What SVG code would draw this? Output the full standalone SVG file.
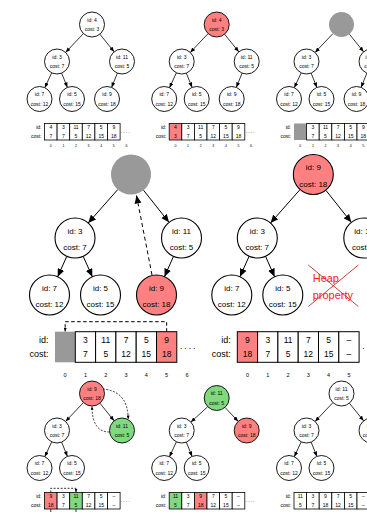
<svg xmlns="http://www.w3.org/2000/svg" width="367" height="512" viewBox="0 0 367 512">
<style>
text{font-family:"Liberation Sans",Arial,sans-serif;text-anchor:middle;fill:#000}
.n{fill:#fff;stroke:#000;stroke-width:0.9}
.nb{fill:#fff;stroke:#000;stroke-width:1.1}
.c{fill:#fff;stroke:#000;stroke-width:0.8}
.cb{fill:#fff;stroke:#000;stroke-width:1}
.red{fill:#ff8080}
.green{fill:#80d880}
.gray{fill:#999;stroke:none}
.ts{font-size:5px}
.tb{font-size:8px}
.e{stroke:#000;stroke-width:0.8;fill:none;marker-end:url(#ah)}
.eb{stroke:#000;stroke-width:1;fill:none;marker-end:url(#ahb)}
.d{stroke:#000;stroke-width:0.8;fill:none;stroke-dasharray:2 1.5;marker-end:url(#ahd)}
.db{stroke:#000;stroke-width:1;fill:none;stroke-dasharray:4 3;marker-end:url(#ahb)}
.ls{font-size:5px;text-anchor:end}
.lb{font-size:9px;text-anchor:end}
.vs{font-size:5px}
.vb{font-size:8.5px}
.is{font-size:3.5px}
.ib{font-size:5.5px}
.dots{font-size:5px;text-anchor:start;letter-spacing:1.1px}
.dotb{font-size:8.5px;text-anchor:start;letter-spacing:2px}
</style>
<defs>
<marker id="ah" markerUnits="userSpaceOnUse" markerWidth="5" markerHeight="4" refX="5" refY="2" orient="auto"><path d="M0,0 L5,2 L0,4 z" fill="#000"/></marker>
<marker id="ahd" markerUnits="userSpaceOnUse" markerWidth="3.5" markerHeight="3" refX="3.5" refY="1.5" orient="auto"><path d="M0,0 L3.5,1.5 L0,3 z" fill="#000"/></marker>
<marker id="ahb" markerUnits="userSpaceOnUse" markerWidth="8" markerHeight="7" refX="8" refY="3.5" orient="auto"><path d="M0,0 L8,3.5 L0,7 z" fill="#000"/></marker>
</defs>

<!-- ===== Panel 1 ===== -->
<g id="panel1">
<g id="p1-edges">
<path class="e" d="M83.4,33.6 L65.6,52.4"/><path class="e" d="M99.9,34.2 L114.1,51.8"/><path class="e" d="M51.7,72.8 L44.8,87.7"/><path class="e" d="M61.6,73.1 L67.4,87.4"/><path class="e" d="M117.4,73.1 L111.6,87.4"/>
</g>
<g id="p1-n4"><circle class="n" cx="92" cy="24.5" r="12.5"/><text class="ts" x="92" y="21.7">id: 4</text><text class="ts" x="92" y="31.2">cost: 3</text></g>
<g id="p1-n3"><circle class="n" cx="57" cy="61.5" r="12.5"/><text class="ts" x="57" y="58.7">id: 3</text><text class="ts" x="57" y="68.2">cost: 7</text></g>
<g id="p1-n11"><circle class="n" cx="122" cy="61.5" r="12.5"/><text class="ts" x="122" y="58.7">id: 11</text><text class="ts" x="122" y="68.2">cost: 5</text></g>
<g id="p1-n7"><circle class="n" cx="39.5" cy="99" r="12.5"/><text class="ts" x="39.5" y="96.2">id: 7</text><text class="ts" x="39.5" y="105.7">cost: 12</text></g>
<g id="p1-n5"><circle class="n" cx="72" cy="99" r="12.5"/><text class="ts" x="72" y="96.2">id: 5</text><text class="ts" x="72" y="105.7">cost: 15</text></g>
<g id="p1-n9"><circle class="n" cx="107" cy="99" r="12.5"/><text class="ts" x="107" y="96.2">id: 9</text><text class="ts" x="107" y="105.7">cost: 18</text></g>
<g id="p1-array">
<text class="ls" x="41.5" y="129.2">id:</text><text class="ls" x="41.5" y="137.6">cost:</text>
<rect class="c" x="44.5" y="123.5" width="12.6" height="16.5"/><rect class="c" x="57.1" y="123.5" width="12.6" height="16.5"/><rect class="c" x="69.7" y="123.5" width="12.6" height="16.5"/><rect class="c" x="82.3" y="123.5" width="12.6" height="16.5"/><rect class="c" x="94.9" y="123.5" width="12.6" height="16.5"/><rect class="c" x="107.5" y="123.5" width="12.6" height="16.5"/>
<text class="vs" x="50.8" y="129.2">4</text><text class="vs" x="63.4" y="129.2">3</text><text class="vs" x="76" y="129.2">11</text><text class="vs" x="88.6" y="129.2">7</text><text class="vs" x="101.2" y="129.2">5</text><text class="vs" x="113.8" y="129.2">9</text>
<text class="vs" x="50.8" y="137.6">7</text><text class="vs" x="63.4" y="137.6">7</text><text class="vs" x="76" y="137.6">5</text><text class="vs" x="88.6" y="137.6">12</text><text class="vs" x="101.2" y="137.6">15</text><text class="vs" x="113.8" y="137.6">18</text>
<text class="dots" x="121" y="133">....</text>
<text class="is" x="50.8" y="147">0</text><text class="is" x="63.4" y="147">1</text><text class="is" x="76" y="147">2</text><text class="is" x="88.6" y="147">3</text><text class="is" x="101.2" y="147">4</text><text class="is" x="113.8" y="147">5</text><text class="is" x="126.4" y="147">6</text>
</g>
</g>

<!-- ===== Panel 2 ===== -->
<g id="panel2" transform="translate(124.7,0)">
<g id="p2-edges">
<path class="e" d="M83.4,33.6 L65.6,52.4"/><path class="e" d="M99.9,34.2 L114.1,51.8"/><path class="e" d="M51.7,72.8 L44.8,87.7"/><path class="e" d="M61.6,73.1 L67.4,87.4"/><path class="e" d="M117.4,73.1 L111.6,87.4"/>
</g>
<g id="p2-n4"><circle class="n red" cx="92" cy="24.5" r="12.5"/><text class="ts" x="92" y="21.7">id: 4</text><text class="ts" x="92" y="31.2">cost: 3</text></g>
<g id="p2-n3"><circle class="n" cx="57" cy="61.5" r="12.5"/><text class="ts" x="57" y="58.7">id: 3</text><text class="ts" x="57" y="68.2">cost: 7</text></g>
<g id="p2-n11"><circle class="n" cx="122" cy="61.5" r="12.5"/><text class="ts" x="122" y="58.7">id: 11</text><text class="ts" x="122" y="68.2">cost: 5</text></g>
<g id="p2-n7"><circle class="n" cx="39.5" cy="99" r="12.5"/><text class="ts" x="39.5" y="96.2">id: 7</text><text class="ts" x="39.5" y="105.7">cost: 12</text></g>
<g id="p2-n5"><circle class="n" cx="72" cy="99" r="12.5"/><text class="ts" x="72" y="96.2">id: 5</text><text class="ts" x="72" y="105.7">cost: 15</text></g>
<g id="p2-n9"><circle class="n" cx="107" cy="99" r="12.5"/><text class="ts" x="107" y="96.2">id: 9</text><text class="ts" x="107" y="105.7">cost: 18</text></g>
<g id="p2-array">
<text class="ls" x="41.5" y="129.2">id:</text><text class="ls" x="41.5" y="137.6">cost:</text>
<rect class="c red" x="44.5" y="123.5" width="12.6" height="16.5"/><rect class="c" x="57.1" y="123.5" width="12.6" height="16.5"/><rect class="c" x="69.7" y="123.5" width="12.6" height="16.5"/><rect class="c" x="82.3" y="123.5" width="12.6" height="16.5"/><rect class="c" x="94.9" y="123.5" width="12.6" height="16.5"/><rect class="c" x="107.5" y="123.5" width="12.6" height="16.5"/>
<text class="vs" x="50.8" y="129.2">4</text><text class="vs" x="63.4" y="129.2">3</text><text class="vs" x="76" y="129.2">11</text><text class="vs" x="88.6" y="129.2">7</text><text class="vs" x="101.2" y="129.2">5</text><text class="vs" x="113.8" y="129.2">9</text>
<text class="vs" x="50.8" y="137.6">3</text><text class="vs" x="63.4" y="137.6">7</text><text class="vs" x="76" y="137.6">5</text><text class="vs" x="88.6" y="137.6">12</text><text class="vs" x="101.2" y="137.6">15</text><text class="vs" x="113.8" y="137.6">18</text>
<text class="dots" x="121" y="133">....</text>
<text class="is" x="50.8" y="147">0</text><text class="is" x="63.4" y="147">1</text><text class="is" x="76" y="147">2</text><text class="is" x="88.6" y="147">3</text><text class="is" x="101.2" y="147">4</text><text class="is" x="113.8" y="147">5</text><text class="is" x="126.4" y="147">6</text>
</g>
</g>

<!-- ===== Panel 3 ===== -->
<g id="panel3" transform="translate(249.5,0)">
<g id="p3-edges">
<path class="e" d="M83.4,33.6 L65.6,52.4"/><path class="e" d="M99.9,34.2 L114.1,51.8"/><path class="e" d="M51.7,72.8 L44.8,87.7"/><path class="e" d="M61.6,73.1 L67.4,87.4"/><path class="e" d="M117.4,73.1 L111.6,87.4"/>
</g>
<g id="p3-root"><circle class="gray" cx="92" cy="24.5" r="12.5"/></g>
<g id="p3-n3"><circle class="n" cx="57" cy="61.5" r="12.5"/><text class="ts" x="57" y="58.7">id: 3</text><text class="ts" x="57" y="68.2">cost: 7</text></g>
<g id="p3-n11"><circle class="n" cx="122" cy="61.5" r="12.5"/><text class="ts" x="122" y="58.7">id: 11</text><text class="ts" x="122" y="68.2">cost: 5</text></g>
<g id="p3-n7"><circle class="n" cx="39.5" cy="99" r="12.5"/><text class="ts" x="39.5" y="96.2">id: 7</text><text class="ts" x="39.5" y="105.7">cost: 12</text></g>
<g id="p3-n5"><circle class="n" cx="72" cy="99" r="12.5"/><text class="ts" x="72" y="96.2">id: 5</text><text class="ts" x="72" y="105.7">cost: 15</text></g>
<g id="p3-n9"><circle class="n" cx="107" cy="99" r="12.5"/><text class="ts" x="107" y="96.2">id: 9</text><text class="ts" x="107" y="105.7">cost: 18</text></g>
<g id="p3-array">
<text class="ls" x="41.5" y="129.2">id:</text><text class="ls" x="41.5" y="137.6">cost:</text>
<rect class="gray" x="44.5" y="123.5" width="12.6" height="16.5"/><rect class="c" x="57.1" y="123.5" width="12.6" height="16.5"/><rect class="c" x="69.7" y="123.5" width="12.6" height="16.5"/><rect class="c" x="82.3" y="123.5" width="12.6" height="16.5"/><rect class="c" x="94.9" y="123.5" width="12.6" height="16.5"/><rect class="c" x="107.5" y="123.5" width="12.6" height="16.5"/>
<text class="vs" x="63.4" y="129.2">3</text><text class="vs" x="76" y="129.2">11</text><text class="vs" x="88.6" y="129.2">7</text><text class="vs" x="101.2" y="129.2">5</text><text class="vs" x="113.8" y="129.2">9</text>
<text class="vs" x="63.4" y="137.6">7</text><text class="vs" x="76" y="137.6">5</text><text class="vs" x="88.6" y="137.6">12</text><text class="vs" x="101.2" y="137.6">15</text><text class="vs" x="113.8" y="137.6">18</text>
<text class="is" x="50.8" y="147">0</text><text class="is" x="63.4" y="147">1</text><text class="is" x="76" y="147">2</text><text class="is" x="88.6" y="147">3</text><text class="is" x="101.2" y="147">4</text><text class="is" x="113.8" y="147">5</text>
</g>
</g>

<!-- ===== Panel 4 (big, left) ===== -->
<g id="panel4">
<g id="p4-edges">
<path class="eb" d="M117.8,189.5 L88.2,223"/><path class="eb" d="M143.5,190.2 L169,222.3"/><path class="eb" d="M66.8,256.3 L57.7,276.7"/><path class="eb" d="M83.2,256.3 L92.3,276.7"/><path class="eb" d="M173.5,256.3 L164.5,276.7"/>
<path class="db" d="M152,275 L136.5,195.5"/>
<path class="db" d="M166.65,331.7 V321.7 H65.15 V331.5" style="stroke-dasharray:3.5 2.5;marker-end:url(#ahd)"/>
</g>
<g id="p4-root"><circle class="gray" cx="131" cy="174.5" r="20"/></g>
<g id="p4-n3"><circle class="nb" cx="75" cy="238" r="20"/><text class="tb" x="75" y="233.5">id: 3</text><text class="tb" x="75" y="250">cost: 7</text></g>
<g id="p4-n11"><circle class="nb" cx="181.5" cy="238" r="20"/><text class="tb" x="181.5" y="233.5">id: 11</text><text class="tb" x="181.5" y="250">cost: 5</text></g>
<g id="p4-n7"><circle class="nb" cx="49.5" cy="295" r="20"/><text class="tb" x="49.5" y="290.5">id: 7</text><text class="tb" x="49.5" y="307">cost: 12</text></g>
<g id="p4-n5"><circle class="nb" cx="100.5" cy="295" r="20"/><text class="tb" x="100.5" y="290.5">id: 5</text><text class="tb" x="100.5" y="307">cost: 15</text></g>
<g id="p4-n9"><circle class="nb red" cx="156.5" cy="295" r="20"/><text class="tb" x="156.5" y="290.5">id: 9</text><text class="tb" x="156.5" y="307">cost: 18</text></g>
<g id="p4-array">
<text class="lb" x="48.5" y="342.5">id:</text><text class="lb" x="48.5" y="357.2">cost:</text>
<rect class="gray" x="55" y="331.7" width="20.3" height="30.6"/><rect class="cb" x="75.3" y="331.7" width="20.3" height="30.6"/><rect class="cb" x="95.6" y="331.7" width="20.3" height="30.6"/><rect class="cb" x="115.9" y="331.7" width="20.3" height="30.6"/><rect class="cb" x="136.2" y="331.7" width="20.3" height="30.6"/><rect class="cb red" x="156.5" y="331.7" width="20.3" height="30.6"/>
<text class="vb" x="85.45" y="342.5">3</text><text class="vb" x="105.75" y="342.5">11</text><text class="vb" x="126.05" y="342.5">7</text><text class="vb" x="146.35" y="342.5">5</text><text class="vb" x="166.65" y="342.5">9</text>
<text class="vb" x="85.45" y="357.2">7</text><text class="vb" x="105.75" y="357.2">5</text><text class="vb" x="126.05" y="357.2">12</text><text class="vb" x="146.35" y="357.2">15</text><text class="vb" x="166.65" y="357.2">18</text>
<text class="dotb" x="180" y="349">....</text>
<text class="ib" x="65.15" y="377">0</text><text class="ib" x="85.45" y="377">1</text><text class="ib" x="105.75" y="377">2</text><text class="ib" x="126.05" y="377">3</text><text class="ib" x="146.35" y="377">4</text><text class="ib" x="166.65" y="377">5</text><text class="ib" x="186.95" y="377">6</text>
</g>
</g>

<!-- ===== Panel 5 (big, right) ===== -->
<g id="panel5" transform="translate(182.3,0)">
<g id="p5-edges">
<path class="eb" d="M117.8,189.5 L88.2,223"/><path class="eb" d="M143.5,190.2 L169,222.3"/><path class="eb" d="M66.8,256.3 L57.7,276.7"/><path class="eb" d="M83.2,256.3 L92.3,276.7"/>
</g>
<g id="p5-n9"><circle class="nb red" cx="131" cy="174.5" r="20"/><text class="tb" x="131" y="170">id: 9</text><text class="tb" x="131" y="186.5">cost: 18</text></g>
<g id="p5-n3"><circle class="nb" cx="75" cy="238" r="20"/><text class="tb" x="75" y="233.5">id: 3</text><text class="tb" x="75" y="250">cost: 7</text></g>
<g id="p5-n11"><circle class="nb" cx="181.5" cy="238" r="20"/><text class="tb" x="181.5" y="233.5">id: 11</text><text class="tb" x="181.5" y="250">cost: 5</text></g>
<g id="p5-n7"><circle class="nb" cx="49.5" cy="295" r="20"/><text class="tb" x="49.5" y="290.5">id: 7</text><text class="tb" x="49.5" y="307">cost: 12</text></g>
<g id="p5-n5"><circle class="nb" cx="100.5" cy="295" r="20"/><text class="tb" x="100.5" y="290.5">id: 5</text><text class="tb" x="100.5" y="307">cost: 15</text></g>
<g id="p5-heap">
<text x="130.4" y="282" style="font-size:11px;fill:#ff2020;text-anchor:start">Heap</text>
<text x="130.4" y="298.5" style="font-size:11px;fill:#ff2020;text-anchor:start">property</text>
<path d="M126,265 L176,306.5 M176,265 L126,306.5" stroke="#b01515" stroke-width="0.8" fill="none"/>
</g>
<g id="p5-array">
<text class="lb" x="48.5" y="342.5">id:</text><text class="lb" x="48.5" y="357.2">cost:</text>
<rect class="cb red" x="55" y="331.7" width="20.3" height="30.6"/><rect class="cb" x="75.3" y="331.7" width="20.3" height="30.6"/><rect class="cb" x="95.6" y="331.7" width="20.3" height="30.6"/><rect class="cb" x="115.9" y="331.7" width="20.3" height="30.6"/><rect class="cb" x="136.2" y="331.7" width="20.3" height="30.6"/><rect class="cb" x="156.5" y="331.7" width="20.3" height="30.6"/>
<text class="vb" x="65.15" y="342.5">9</text><text class="vb" x="85.45" y="342.5">3</text><text class="vb" x="105.75" y="342.5">11</text><text class="vb" x="126.05" y="342.5">7</text><text class="vb" x="146.35" y="342.5">5</text><text class="vb" x="166.65" y="342.5">–</text>
<text class="vb" x="65.15" y="357.2">18</text><text class="vb" x="85.45" y="357.2">7</text><text class="vb" x="105.75" y="357.2">5</text><text class="vb" x="126.05" y="357.2">12</text><text class="vb" x="146.35" y="357.2">15</text><text class="vb" x="166.65" y="357.2">–</text>
<text class="dotb" x="180" y="349">....</text>
<text class="ib" x="65.15" y="377">0</text><text class="ib" x="85.45" y="377">1</text><text class="ib" x="105.75" y="377">2</text><text class="ib" x="126.05" y="377">3</text><text class="ib" x="146.35" y="377">4</text><text class="ib" x="166.65" y="377">5</text>
</g>
</g>

<!-- ===== Panel 6 ===== -->
<g id="panel6" transform="translate(0,369)">
<g id="p6-edges">
<path class="e" d="M83.4,33.6 L65.6,52.4"/><path class="e" d="M99.9,34.2 L114.1,51.8"/><path class="e" d="M51.7,72.8 L44.8,87.7"/><path class="e" d="M61.6,73.1 L67.4,87.4"/>
<path class="d" d="M102.5,20 Q128,22 128.2,50"/>
<path class="d" d="M109.5,63 Q92,63 92,37.2"/>
<path class="d" d="M50.8,123.5 V119.3 H76 V123.3"/>
<path d="M50.8,140 V143.5 M76,140 V143.5" stroke="#000" stroke-width="0.8"/>
</g>
<g id="p6-n9"><circle class="n red" cx="92" cy="24.5" r="12.5"/><text class="ts" x="92" y="21.7">id: 9</text><text class="ts" x="92" y="31.2">cost: 18</text></g>
<g id="p6-n3"><circle class="n" cx="57" cy="61.5" r="12.5"/><text class="ts" x="57" y="58.7">id: 3</text><text class="ts" x="57" y="68.2">cost: 7</text></g>
<g id="p6-n11"><circle class="n green" cx="122" cy="61.5" r="12.5"/><text class="ts" x="122" y="58.7">id: 11</text><text class="ts" x="122" y="68.2">cost: 5</text></g>
<g id="p6-n7"><circle class="n" cx="39.5" cy="99" r="12.5"/><text class="ts" x="39.5" y="96.2">id: 7</text><text class="ts" x="39.5" y="105.7">cost: 12</text></g>
<g id="p6-n5"><circle class="n" cx="72" cy="99" r="12.5"/><text class="ts" x="72" y="96.2">id: 5</text><text class="ts" x="72" y="105.7">cost: 15</text></g>
<g id="p6-array">
<text class="ls" x="41.5" y="129.2">id:</text><text class="ls" x="41.5" y="137.6">cost:</text>
<rect class="c red" x="44.5" y="123.5" width="12.6" height="16.5"/><rect class="c" x="57.1" y="123.5" width="12.6" height="16.5"/><rect class="c green" x="69.7" y="123.5" width="12.6" height="16.5"/><rect class="c" x="82.3" y="123.5" width="12.6" height="16.5"/><rect class="c" x="94.9" y="123.5" width="12.6" height="16.5"/><rect class="c" x="107.5" y="123.5" width="12.6" height="16.5"/>
<text class="vs" x="50.8" y="129.2">9</text><text class="vs" x="63.4" y="129.2">3</text><text class="vs" x="76" y="129.2">11</text><text class="vs" x="88.6" y="129.2">7</text><text class="vs" x="101.2" y="129.2">5</text><text class="vs" x="113.8" y="129.2">–</text>
<text class="vs" x="50.8" y="137.6">18</text><text class="vs" x="63.4" y="137.6">7</text><text class="vs" x="76" y="137.6">5</text><text class="vs" x="88.6" y="137.6">12</text><text class="vs" x="101.2" y="137.6">15</text><text class="vs" x="113.8" y="137.6">–</text>
<text class="dots" x="121" y="133">....</text>
</g>
</g>

<!-- ===== Panel 7 ===== -->
<g id="panel7" transform="translate(124.7,369)">
<g id="p7-edges">
<path class="e" d="M82.8,37.9 L66.2,53.1"/><path class="e" d="M100.5,38.6 L113.5,52.4"/><path class="e" d="M51.7,72.8 L44.8,87.7"/><path class="e" d="M61.6,73.1 L67.4,87.4"/>
</g>
<g id="p7-n11"><circle class="n green" cx="92" cy="29" r="12.5"/><text class="ts" x="92" y="26.2">id: 11</text><text class="ts" x="92" y="35.7">cost: 5</text></g>
<g id="p7-n3"><circle class="n" cx="57" cy="61.5" r="12.5"/><text class="ts" x="57" y="58.7">id: 3</text><text class="ts" x="57" y="68.2">cost: 7</text></g>
<g id="p7-n9"><circle class="n red" cx="122" cy="61.5" r="12.5"/><text class="ts" x="122" y="58.7">id: 9</text><text class="ts" x="122" y="68.2">cost: 18</text></g>
<g id="p7-n7"><circle class="n" cx="39.5" cy="99" r="12.5"/><text class="ts" x="39.5" y="96.2">id: 7</text><text class="ts" x="39.5" y="105.7">cost: 12</text></g>
<g id="p7-n5"><circle class="n" cx="72" cy="99" r="12.5"/><text class="ts" x="72" y="96.2">id: 5</text><text class="ts" x="72" y="105.7">cost: 15</text></g>
<g id="p7-array">
<text class="ls" x="41.5" y="129.2">id:</text><text class="ls" x="41.5" y="137.6">cost:</text>
<rect class="c green" x="44.5" y="123.5" width="12.6" height="16.5"/><rect class="c" x="57.1" y="123.5" width="12.6" height="16.5"/><rect class="c red" x="69.7" y="123.5" width="12.6" height="16.5"/><rect class="c" x="82.3" y="123.5" width="12.6" height="16.5"/><rect class="c" x="94.9" y="123.5" width="12.6" height="16.5"/><rect class="c" x="107.5" y="123.5" width="12.6" height="16.5"/>
<text class="vs" x="50.8" y="129.2">11</text><text class="vs" x="63.4" y="129.2">3</text><text class="vs" x="76" y="129.2">9</text><text class="vs" x="88.6" y="129.2">7</text><text class="vs" x="101.2" y="129.2">5</text><text class="vs" x="113.8" y="129.2">–</text>
<text class="vs" x="50.8" y="137.6">5</text><text class="vs" x="63.4" y="137.6">7</text><text class="vs" x="76" y="137.6">18</text><text class="vs" x="88.6" y="137.6">12</text><text class="vs" x="101.2" y="137.6">15</text><text class="vs" x="113.8" y="137.6">–</text>
<text class="dots" x="121" y="133">....</text>
</g>
</g>

<!-- ===== Panel 8 ===== -->
<g id="panel8" transform="translate(249.5,369)">
<g id="p8-edges">
<path class="e" d="M83.4,33.6 L65.6,52.4"/><path class="e" d="M99.9,34.2 L114.1,51.8"/><path class="e" d="M51.7,72.8 L44.8,87.7"/><path class="e" d="M61.6,73.1 L67.4,87.4"/>
</g>
<g id="p8-n11"><circle class="n" cx="92" cy="24.5" r="12.5"/><text class="ts" x="92" y="21.7">id: 11</text><text class="ts" x="92" y="31.2">cost: 5</text></g>
<g id="p8-n3"><circle class="n" cx="57" cy="61.5" r="12.5"/><text class="ts" x="57" y="58.7">id: 3</text><text class="ts" x="57" y="68.2">cost: 7</text></g>
<g id="p8-n9"><circle class="n" cx="122" cy="61.5" r="12.5"/><text class="ts" x="122" y="58.7">id: 9</text><text class="ts" x="122" y="68.2">cost: 18</text></g>
<g id="p8-n7"><circle class="n" cx="39.5" cy="99" r="12.5"/><text class="ts" x="39.5" y="96.2">id: 7</text><text class="ts" x="39.5" y="105.7">cost: 12</text></g>
<g id="p8-n5"><circle class="n" cx="72" cy="99" r="12.5"/><text class="ts" x="72" y="96.2">id: 5</text><text class="ts" x="72" y="105.7">cost: 15</text></g>
<g id="p8-array">
<text class="ls" x="41.5" y="129.2">id:</text><text class="ls" x="41.5" y="137.6">cost:</text>
<rect class="c" x="44.5" y="123.5" width="12.6" height="16.5"/><rect class="c" x="57.1" y="123.5" width="12.6" height="16.5"/><rect class="c" x="69.7" y="123.5" width="12.6" height="16.5"/><rect class="c" x="82.3" y="123.5" width="12.6" height="16.5"/><rect class="c" x="94.9" y="123.5" width="12.6" height="16.5"/><rect class="c" x="107.5" y="123.5" width="12.6" height="16.5"/>
<text class="vs" x="50.8" y="129.2">11</text><text class="vs" x="63.4" y="129.2">3</text><text class="vs" x="76" y="129.2">9</text><text class="vs" x="88.6" y="129.2">7</text><text class="vs" x="101.2" y="129.2">5</text><text class="vs" x="113.8" y="129.2">–</text>
<text class="vs" x="50.8" y="137.6">5</text><text class="vs" x="63.4" y="137.6">7</text><text class="vs" x="76" y="137.6">18</text><text class="vs" x="88.6" y="137.6">12</text><text class="vs" x="101.2" y="137.6">15</text><text class="vs" x="113.8" y="137.6">–</text>
</g>
</g>
</svg>
